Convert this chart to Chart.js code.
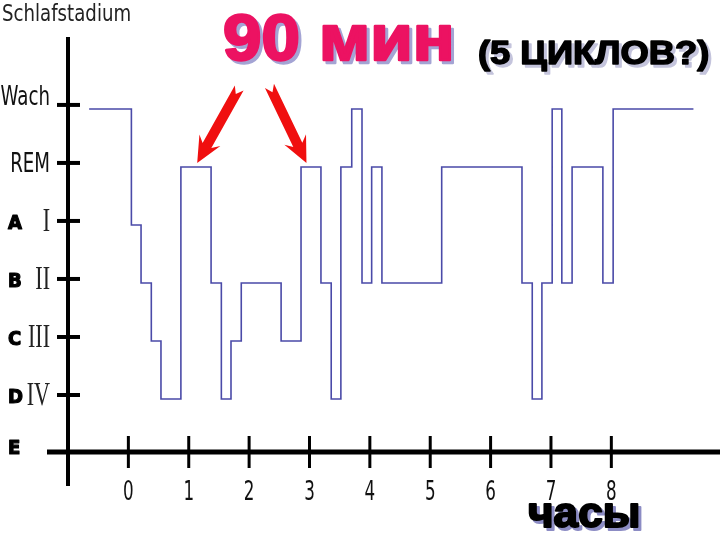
<!DOCTYPE html>
<html>
<head>
<meta charset="utf-8">
<script src="https://cdn.jsdelivr.net/npm/chart.js@4.4.1/dist/chart.umd.min.js"></script>
<style>
  body { margin: 0; background: #fff; }
  canvas { display: block; }
</style>
</head>
<body>
<canvas id="hypnogram" width="720" height="540"></canvas>
<script>
// hour at which each stage starts, last point is the end of the night
const hours = [-0.65, 0.05, 0.21, 0.38, 0.54, 0.87, 1.37, 1.54, 1.70, 1.87, 2.53, 2.86, 3.19, 3.36, 3.52, 3.70, 3.87, 4.03, 4.20, 5.19, 6.52, 6.69, 6.85, 7.02, 7.18, 7.35, 7.86, 8.03, 9.36];
// 5 = Wach, 4 = REM, 3 = I, 2 = II, 1 = III, 0 = IV
const stages = [5, 3, 2, 1, 0, 4, 2, 0, 1, 2, 1, 4, 2, 0, 4, 5, 2, 4, 2, 4, 2, 0, 2, 5, 2, 4, 2, 5, 5];
const stageLabels = ['IV', 'III', 'II', 'I', 'REM', 'Wach'];
const sideLetters = ['E', 'D', 'C', 'B', 'A'];   // stage values -1 .. 3
const hourTicks = [0, 1, 2, 3, 4, 5, 6, 7, 8];
const arrowHours = [1.14, 2.95];                 // REM phases the arrows point at

const points = hours.map((h, i) => ({ x: h, y: stages[i] }));

function squeezed(ctx, text, x, y, font, color, align, sx, heavy) {
    ctx.save();
    ctx.translate(x, y);
    ctx.scale(sx, 1);
    ctx.font = font;
    ctx.fillStyle = color;
    ctx.textAlign = align;
    ctx.fillText(text, 0, 0);
    if (heavy) {
        // fake a blacker weight
        ctx.strokeStyle = color;
        ctx.lineWidth = heavy;
        ctx.lineJoin = 'round';
        ctx.strokeText(text, 0, 0);
    }
    ctx.restore();
}

function shadowed(ctx, text, x, y, font, color, shadow, sx, heavy) {
    squeezed(ctx, text, x + 3, y + 3, font, shadow, 'left', sx, heavy);
    squeezed(ctx, text, x, y, font, color, 'left', sx, heavy);
}

function arrow(ctx, x0, y0, x1, y1) {
    const ang = Math.atan2(y1 - y0, x1 - x0);
    const len = Math.hypot(x1 - x0, y1 - y0);
    ctx.save();
    ctx.translate(x0, y0);
    ctx.rotate(ang);
    ctx.beginPath();
    ctx.moveTo(0, -5);
    ctx.lineTo(len - 20, -5);
    ctx.lineTo(len - 26, -12);
    ctx.lineTo(len, 0);
    ctx.lineTo(len - 26, 12);
    ctx.lineTo(len - 20, 5);
    ctx.lineTo(0, 5);
    ctx.lineTo(7, 0);
    ctx.closePath();
    ctx.fillStyle = '#f00f0f';
    ctx.fill();
    ctx.restore();
}

const decor = {
    id: 'decor',
    afterDraw(chart) {
        const ctx = chart.ctx;
        const area = chart.chartArea;
        const xs = chart.scales.x;
        const ys = chart.scales.y;
        const tickY = v => ys.getPixelForValue(v) - 4;   // ticks sit a little above the stage lines

        ctx.save();
        ctx.strokeStyle = '#000';
        ctx.lineCap = 'butt';

        // axes
        ctx.lineWidth = 4;
        ctx.beginPath();
        ctx.moveTo(area.left, area.top);
        ctx.lineTo(area.left, 486);
        ctx.stroke();
        ctx.lineWidth = 5;
        ctx.beginPath();
        ctx.moveTo(47, area.bottom);
        ctx.lineTo(area.right, area.bottom);
        ctx.stroke();

        // y ticks
        ctx.lineWidth = 4;
        stageLabels.forEach((lab, v) => {
            const y = tickY(v);
            ctx.beginPath();
            ctx.moveTo(area.left - 11, y);
            ctx.lineTo(area.left + 12, y);
            ctx.stroke();
        });
        // x ticks
        ctx.lineWidth = 3;
        hourTicks.forEach(h => {
            const x = xs.getPixelForValue(h);
            ctx.beginPath();
            ctx.moveTo(x, area.bottom - 16);
            ctx.lineTo(x, area.bottom + 16);
            ctx.stroke();
        });

        // tick labels
        ctx.textBaseline = 'middle';
        stageLabels.forEach((lab, v) => {
            const y = tickY(v);
            if (v >= 4) {
                squeezed(ctx, lab, 50, y + (lab === 'Wach' ? -7 : 2), '26px "DejaVu Sans"', '#111', 'right', 0.7);
            } else {
                squeezed(ctx, lab, 50, y + 1, '34px "Liberation Serif"', '#222', 'right', 0.65);
            }
        });
        sideLetters.forEach((lab, i) => {
            const y = i === 0 ? area.bottom - 3 : tickY(i - 1) + 3;
            squeezed(ctx, lab, 8, y, 'bold 19px "DejaVu Sans"', '#000', 'left', 0.95, 1.2);
        });
        hourTicks.forEach(h => {
            squeezed(ctx, String(h), xs.getPixelForValue(h), 493, '27px "DejaVu Sans"', '#111', 'center', 0.62);
        });

        // titles
        ctx.textBaseline = 'alphabetic';
        squeezed(ctx, 'Schlafstadium', 2, 21, '23px "DejaVu Sans"', '#222', 'left', 0.79);
        shadowed(ctx, '90 мин', 223, 60, 'bold 64px "Liberation Sans"', '#ec1262', '#a4a4d4', 1.08, 2.5);
        shadowed(ctx, '(5 ЦИКЛОВ?)', 478, 64, 'bold 33px "Liberation Sans"', '#000', '#c4c4dc', 1.1, 1.5);
        shadowed(ctx, 'часы', 528, 527, 'bold 42px "Liberation Sans"', '#000', '#8c8cc4', 1.05, 2);

        // arrows to the REM phases
        const remY = ys.getPixelForValue(4) - 4;
        const t1 = xs.getPixelForValue(arrowHours[0]);
        const t2 = xs.getPixelForValue(arrowHours[1]);
        arrow(ctx, t1 + 42, remY - 75, t1, remY);
        arrow(ctx, t2 - 37, remY - 77, t2, remY);

        ctx.restore();
    }
};

new Chart(document.getElementById('hypnogram'), {
    type: 'line',
    data: {
        datasets: [{
            data: points,
            stepped: true,
            borderColor: '#4a4aa8',
            borderWidth: 1.6,
            pointRadius: 0,
            fill: false
        }]
    },
    options: {
        responsive: false,
        animation: false,
        layout: { padding: { left: 68, right: 0, top: 37, bottom: 88 } },
        plugins: {
            legend: { display: false },
            tooltip: { enabled: false }
        },
        scales: {
            x: { type: 'linear', min: -1, max: 9.8, display: false },
            y: { min: -0.914, max: 6.24, display: false }
        }
    },
    plugins: [decor]
});
</script>
</body>
</html>
